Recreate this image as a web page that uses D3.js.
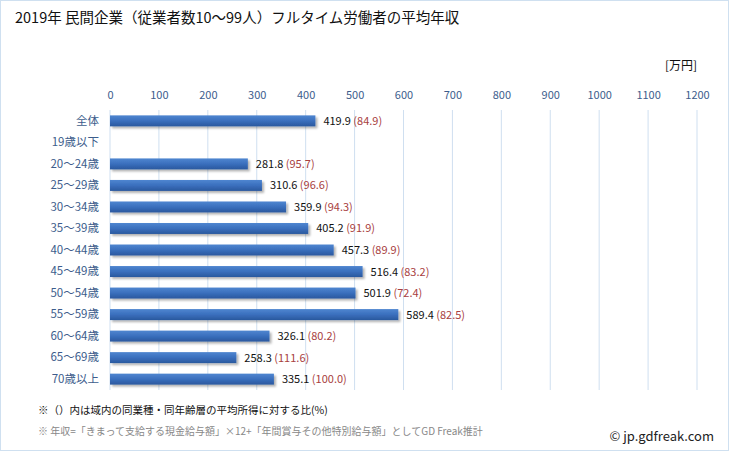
<!DOCTYPE html>
<html><head><meta charset="utf-8">
<script src="https://cdn.jsdelivr.net/npm/d3@7"></script>
<style>body{margin:0;background:#fff;font-family:"Noto Sans CJK JP","Noto Sans",sans-serif;}</style>
</head><body><div id="chart"></div>
<script>
const categories = ["全体","19歳以下","20〜24歳","25〜29歳","30〜34歳","35〜39歳","40〜44歳","45〜49歳","50〜54歳","55〜59歳","60〜64歳","65〜69歳","70歳以上"];
const values = [419.9, null, 281.8, 310.6, 359.9, 405.2, 457.3, 516.4, 501.9, 589.4, 326.1, 258.3, 335.1];
const ratios = [84.9, null, 95.7, 96.6, 94.3, 91.9, 89.9, 83.2, 72.4, 82.5, 80.2, 111.6, 100.0];
const tickValues = [0,100,200,300,400,500,600,700,800,900,1000,1100,1200];

const W = 729, H = 451;
const svg = d3.select("#chart").append("svg").attr("width", W).attr("height", H);
const font = '"Noto Sans CJK JP","Noto Sans",sans-serif';

svg.append("rect").attr("x",0.5).attr("y",0.5).attr("width",W-1).attr("height",H-1)
  .attr("fill","#fff").attr("stroke","#cfe0f0");

const defs = svg.append("defs");
const g1 = defs.append("linearGradient").attr("id","barg").attr("x1",0).attr("y1",0).attr("x2",0).attr("y2",1);
g1.append("stop").attr("offset","0%").attr("stop-color","#4f86d0");
g1.append("stop").attr("offset","50%").attr("stop-color","#3a6fbd");
g1.append("stop").attr("offset","100%").attr("stop-color","#2a589e");
const f = defs.append("filter").attr("id","sh").attr("x","-5%").attr("y","-20%").attr("width","115%").attr("height","160%");
f.append("feDropShadow").attr("dx",2).attr("dy",2).attr("stdDeviation",1.2).attr("flood-color","#000").attr("flood-opacity",0.3);

const x = d3.scaleLinear().domain([0,1200]).range([110,697]);
const y = d3.scaleBand().domain(categories).range([110,390]).paddingInner(0.49).paddingOuter(0.25);

svg.append("text").attr("x",15).attr("y",23).attr("font-size",14.5).attr("font-family",font).attr("fill","#111")
  .text("2019年 民間企業（従業者数10〜99人）フルタイム労働者の平均年収");
svg.append("text").attr("x",697).attr("y",70).attr("text-anchor","end").attr("font-size",12).attr("font-family",font).attr("fill","#111").text("[万円]");

// grid
svg.append("g").selectAll("line").data(tickValues).join("line")
  .attr("x1",d=>x(d)).attr("x2",d=>x(d)).attr("y1",110).attr("y2",390)
  .attr("stroke","#cfdff0").attr("stroke-width",1);

const axis = d3.axisTop(x).tickValues(tickValues).tickFormat(d3.format("d")).tickSize(0).tickPadding(0);
const ax = svg.append("g").attr("transform","translate(0,99)").call(axis);
ax.select(".domain").remove();
ax.selectAll("text").attr("font-size",11).attr("font-family",font).attr("fill","#3d5d8c");

const yAxis = d3.axisLeft(y).tickSize(0).tickPadding(0);
const ay = svg.append("g").attr("transform","translate(99,0)").call(yAxis);
ay.select(".domain").remove();
ay.selectAll("text").attr("font-size",11.5).attr("font-family",font).attr("fill","#3d5d8c");

const data = categories.map((c,i)=>({c, v:values[i], r:ratios[i]}));
svg.append("g").selectAll("rect").data(data.filter(d=>d.v!=null)).join("rect")
  .attr("x",x(0)).attr("y",d=>y(d.c)).attr("width",d=>x(d.v)-x(0)).attr("height",y.bandwidth())
  .attr("fill","url(#barg)").attr("filter","url(#sh)");

const lbl = svg.append("g").selectAll("text").data(data.filter(d=>d.v!=null)).join("text")
  .attr("x",d=>x(d.v)+8).attr("y",d=>y(d.c)+y.bandwidth()/2+4)
  .attr("font-size",11).attr("font-family",font);
lbl.append("tspan").attr("fill","#111").text(d=>d.v.toFixed(1));
lbl.append("tspan").attr("fill","#a84040").text(d=>" ("+d.r.toFixed(1)+")");

svg.append("text").attr("x",38).attr("y",414).attr("font-size",10.5).attr("font-family",font).attr("fill","#111")
  .text("※（）内は域内の同業種・同年齢層の平均所得に対する比(%)");
svg.append("text").attr("x",38).attr("y",435).attr("font-size",10).attr("font-family",font).attr("fill","#888")
  .text("※ 年収=「きまって支給する現金給与額」×12+「年間賞与その他特別給与額」としてGD Freak推計");
svg.append("text").attr("x",714).attr("y",441).attr("text-anchor","end").attr("font-size",13).attr("font-family",font).attr("fill","#222")
  .text("© jp.gdfreak.com");
</script></body></html>
